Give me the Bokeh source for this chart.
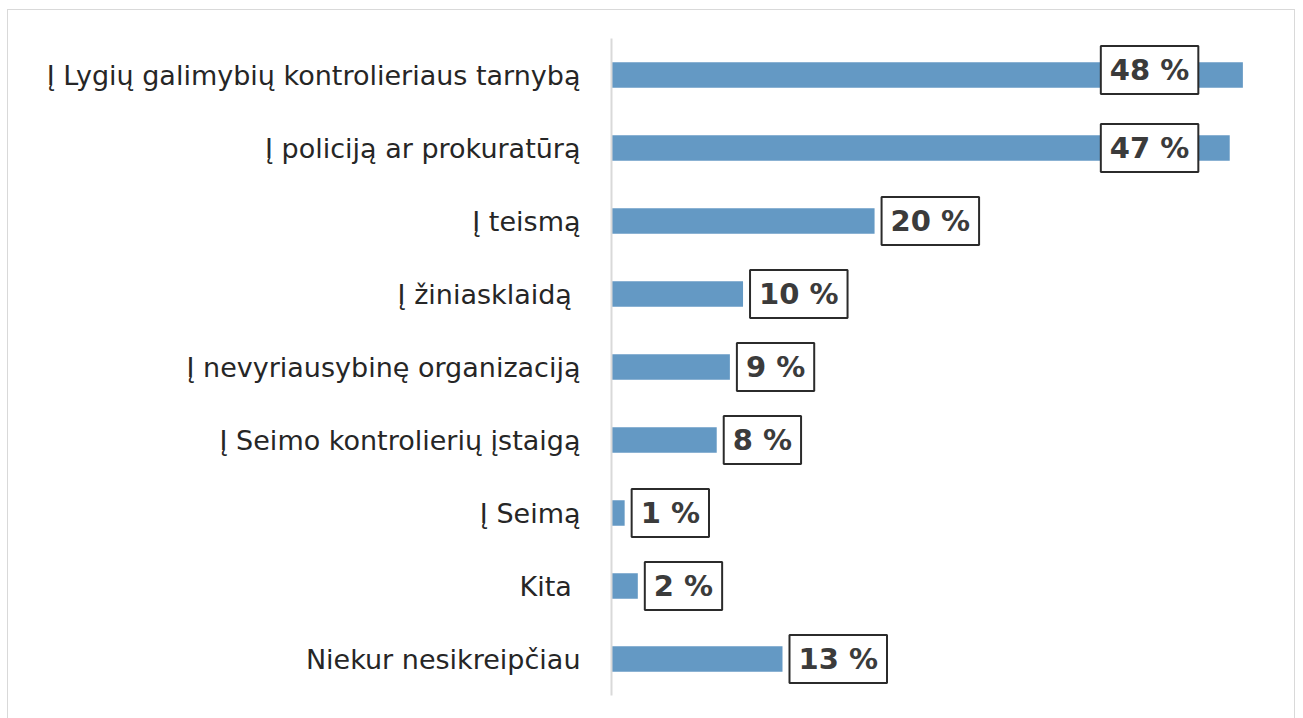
from bokeh.plotting import figure
from bokeh.models import ColumnDataSource, Label, Range1d, FixedTicker
from bokeh.embed import file_html
from bokeh.resources import INLINE

categories = [
    "Į Lygių galimybių kontrolieriaus tarnybą",
    "Į policiją ar prokuratūrą",
    "Į teismą",
    "Į žiniasklaidą ",
    "Į nevyriausybinę organizaciją",
    "Į Seimo kontrolierių įstaigą",
    "Į Seimą",
    "Kita ",
    "Niekur nesikreipčiau",
]
values = [48, 47, 20, 10, 9, 8, 1, 2, 13]
value_labels = ["48 %", "47 %", "20 %", "10 %", "9 %", "8 %", "1 %", "2 %", "13 %"]

n = len(categories)
ypos = [n - i - 0.5 for i in range(n)]  # first category on top

W, H = 1288, 712
p = figure(
    width=W, height=H,
    y_range=Range1d(0, n),
    x_range=Range1d(0, 50.1),
    output_backend="svg", toolbar_location=None,
    min_border_left=603, min_border_right=26, min_border_top=28, min_border_bottom=27,
)
p.styles = {"border": "1px solid #d9d9d9", "margin-left": "7px", "margin-top": "9px"}

src = ColumnDataSource(dict(y=ypos, val=values))
p.hbar(y="y", right="val", left=0, height=0.35, source=src,
       fill_color="#6499c4", line_color=None)

for i, (yy, v, t) in enumerate(zip(ypos, values, value_labels)):
    big = v > 40
    lab = Label(
        x=37.2 if big else v, y=yy, text=t,
        x_offset=0 if big else 7, y_offset=5 if i == 0 else 0,
        text_align="left", text_baseline="middle",
        text_font="DejaVu Sans", text_font_style="bold", text_font_size="29px",
        text_color="#3b3b3b",
        background_fill_color="white", border_line_color="#2b2b2b", border_line_width=2,
        padding=(9, 7),
    )
    p.add_layout(lab)

p.xaxis.visible = False
p.xgrid.visible = False
p.ygrid.visible = False
p.outline_line_color = None

ya = p.yaxis[0]
ya.ticker = FixedTicker(ticks=ypos)
ya.major_label_overrides = {yy: c for yy, c in zip(ypos, categories)}
ya.axis_line_color = "#d9d9d9"
ya.axis_line_width = 2
ya.major_tick_line_color = None
ya.minor_tick_line_color = None
ya.major_label_standoff = 25
ya.major_label_text_font = "DejaVu Sans"
ya.major_label_text_font_size = "27px"
ya.major_label_text_color = "#262626"

open("out.html", "w").write(file_html(p, INLINE))
